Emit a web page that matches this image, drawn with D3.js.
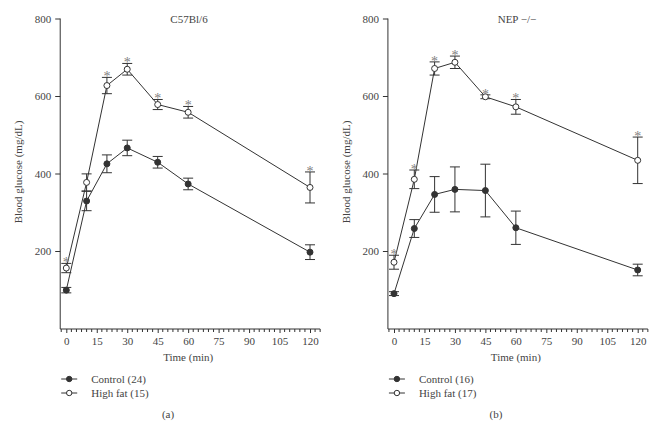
<!DOCTYPE html>
<html><head><meta charset="utf-8">
<script src="https://cdn.jsdelivr.net/npm/d3@7"></script>
<style>body{margin:0;background:#fff}svg{display:block}</style>
</head><body>
<svg id="c" width="662" height="426" font-family="'Liberation Serif', 'Times New Roman', Times, serif"></svg>
<script>
const times = [0, 10, 20, 30, 45, 60, 120];
const yTicks = [200, 400, 600, 800];
const xTicks = [0, 15, 30, 45, 60, 75, 90, 105, 120];

const aTitle = "C57Bl/6";
const aControl = [99, 329, 425, 466, 429, 373, 197];
const aControlErr = [7, 25, 23, 20, 15, 15, 19];
const aHighFat = [156, 377, 627, 669, 578, 558, 364];
const aHighFatErr = [12, 22, 21, 15, 13, 15, 40];
const aStars = [1, 0, 1, 1, 1, 1, 1];
const aLegend = ["Control (24)", "High fat (15)"];

const bTitle = "NEP \u2212/\u2212";
const bControl = [90, 258, 346, 359, 356, 260, 151];
const bControlErr = [5, 23, 46, 58, 68, 43, 15];
const bHighFat = [171, 385, 671, 687, 598, 572, 434];
const bHighFatErr = [18, 24, 17, 16, 5, 19, 60];
const bStars = [1, 1, 1, 1, 1, 1, 1];
const bLegend = ["Control (16)", "High fat (17)"];

const FONT = "'Liberation Serif', 'Times New Roman', Times, serif";
const svg = d3.select("#c");
const ink = "#333";
const textInk = "#444";

function txt(sel) { return sel.attr("font-family", FONT).attr("fill", textInk); }

function panel(o) {
  const g = svg.append("g");
  const x = d3.scaleLinear().domain([0, 120]).range([o.x0, o.x0 + 243.7]);
  const y = d3.scaleLinear().domain([0, 800]).range([328.5, 18.5]);

  const ya = g.append("g").attr("transform", `translate(${x(-3)},0)`)
    .call(d3.axisLeft(y).tickValues(yTicks).tickSize(5).tickPadding(4).tickSizeOuter(0));
  ya.select(".domain").attr("d", `M0,${y(0)+0.5}V${y(800)}`);
  const xa = g.append("g").attr("transform", `translate(0,${y(0)+0.5})`)
    .call(d3.axisBottom(x).tickValues(xTicks).tickSize(4).tickPadding(4).tickSizeOuter(0));
  xa.select(".domain").attr("d", `M${x(-3)},0H${x(125)}`);
  const minor = d3.range(-2.5, 125.1, 2.5).filter(v => v % 15 !== 0);
  xa.selectAll(".minor").data(minor).join("line").attr("class", "minor")
    .attr("x1", d => x(d)).attr("x2", d => x(d)).attr("y1", 0).attr("y2", 3);
  [ya, xa].forEach(a => {
    a.attr("font-family", FONT);
    a.selectAll("path,line").attr("stroke", ink).attr("stroke-width", 1);
    txt(a.selectAll("text")).attr("font-size", 11);
  });

  txt(g.append("text")).attr("x", o.titleX).attr("y", 23).attr("text-anchor", "middle").attr("font-size", 11).text(o.title);
  txt(g.append("text")).attr("transform", `translate(${o.x0 - 44},${172}) rotate(-90)`)
    .attr("text-anchor", "middle").attr("font-size", 11).text("Blood glucose (mg/dL)");
  txt(g.append("text")).attr("x", (x(0) + x(120)) / 2).attr("y", 361).attr("text-anchor", "middle")
    .attr("font-size", 11).text("Time (min)");

  const line = d3.line().x(d => x(d.t)).y(d => y(d.v));
  const series = [
    {vals: o.control, err: o.controlErr, fill: ink},
    {vals: o.highfat, err: o.highfatErr, fill: "#fff"}
  ];
  series.forEach((s, si) => {
    const pts = times.map((t, i) => ({t, v: s.vals[i], e: s.err[i]}));
    g.append("path").datum(pts).attr("d", line).attr("fill", "none").attr("stroke", ink).attr("stroke-width", 1);
    const eb = g.append("g").attr("stroke", ink).attr("stroke-width", 1);
    pts.forEach(p => {
      eb.append("line").attr("x1", x(p.t)).attr("x2", x(p.t)).attr("y1", y(p.v - p.e)).attr("y2", y(p.v + p.e));
      eb.append("line").attr("x1", x(p.t) - 5).attr("x2", x(p.t) + 5).attr("y1", y(p.v - p.e)).attr("y2", y(p.v - p.e));
      eb.append("line").attr("x1", x(p.t) - 5).attr("x2", x(p.t) + 5).attr("y1", y(p.v + p.e)).attr("y2", y(p.v + p.e));
    });
    g.append("g").selectAll("circle").data(pts).join("circle")
      .attr("cx", d => x(d.t)).attr("cy", d => y(d.v)).attr("r", 3)
      .attr("fill", s.fill).attr("stroke", ink).attr("stroke-width", 1);
    if (si === 1) {
      g.append("g").selectAll("text").data(pts.filter((d, i) => o.stars[i])).join("text")
        .attr("x", d => x(d.t)).attr("y", d => y(d.v + d.e) + 4).attr("text-anchor", "middle")
        .attr("font-family", FONT).attr("font-size", 14).attr("fill", "#808080").text("*");
    }
  });

  const lx = x(-3);
  o.legend.forEach((lab, i) => {
    const ly = 379 + i * 14;
    g.append("line").attr("x1", lx + 1).attr("x2", lx + 17).attr("y1", ly).attr("y2", ly).attr("stroke", ink);
    g.append("circle").attr("cx", lx + 9).attr("cy", ly).attr("r", 2.7)
      .attr("fill", i === 0 ? ink : "#fff").attr("stroke", ink);
    txt(g.append("text")).attr("x", lx + 31).attr("y", ly + 4).attr("font-size", 11).text(lab);
  });
  txt(g.append("text")).attr("x", o.labX).attr("y", 418).attr("text-anchor", "middle").attr("font-size", 11).text(o.lab);
}

panel({x0: 66.3, title: aTitle, titleX: 189, control: aControl, controlErr: aControlErr,
  highfat: aHighFat, highfatErr: aHighFatErr, stars: aStars, legend: aLegend, lab: "(a)", labX: 168});
panel({x0: 394, title: bTitle, titleX: 517, control: bControl, controlErr: bControlErr,
  highfat: bHighFat, highfatErr: bHighFatErr, stars: bStars, legend: bLegend, lab: "(b)", labX: 496});
</script>
</body></html>
